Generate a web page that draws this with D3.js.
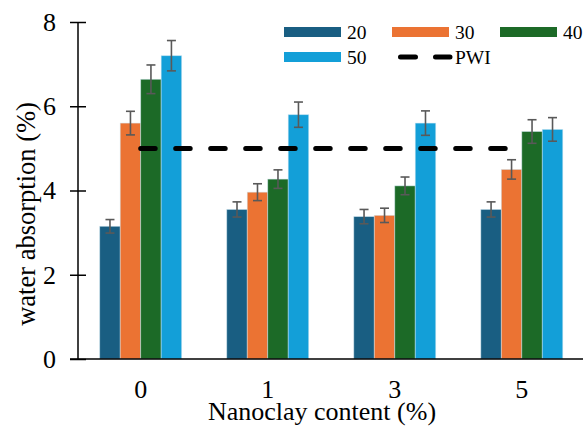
<!DOCTYPE html>
<html>
<head>
<meta charset="utf-8">
<script src="https://cdn.jsdelivr.net/npm/d3@7.9.0/dist/d3.min.js"></script>
<style>
  body { margin: 0; background: #fff; }
  svg { display: block; }
  svg text { font-family: 'Liberation Serif', 'Tinos', 'Times New Roman', 'DejaVu Serif', serif !important; }
</style>
</head>
<body>
<svg id="chart" width="583" height="427"></svg>
<script>
const CATEGORIES = ["0", "1", "3", "5"];
const SERIES = ["20", "30", "40", "50"];
const COLORS = ["#195e82", "#eb7333", "#1c6a27", "#139fd8"];

// water absorption (%) per series, one value per nanoclay content
const V20 = [3.15, 3.55, 3.38, 3.55];
const V30 = [5.60, 3.96, 3.41, 4.50];
const V40 = [6.64, 4.27, 4.11, 5.40];
const V50 = [7.20, 5.80, 5.60, 5.45];

const E20 = [0.16, 0.18, 0.17, 0.18];
const E30 = [0.28, 0.20, 0.17, 0.23];
const E40 = [0.34, 0.22, 0.21, 0.28];
const E50 = [0.36, 0.30, 0.29, 0.28];

const PWI = [5, 5, 5, 5];
const Y_TICKS = [0, 2, 4, 6, 8];

const values = [V20, V30, V40, V50];
const errors = [E20, E30, E40, E50];

const rows = [];
SERIES.forEach((s, si) => {
  CATEGORIES.forEach((c, ci) => {
    rows.push({series: s, cat: c, value: values[si][ci], err: errors[si][ci]});
  });
});

const svg = d3.select("#chart");

const x = d3.scaleBand()
  .domain(CATEGORIES)
  .range([77.5, 585])
  .paddingInner(0.355)
  .paddingOuter(0.175);

const xs = d3.scaleBand()
  .domain(SERIES)
  .range([0, x.bandwidth()]);

const y = d3.scaleLinear()
  .domain([0, 8])
  .range([359, 22]);

const color = d3.scaleOrdinal().domain(SERIES).range(COLORS);

// y axis
const yAxis = svg.append("g")
  .attr("transform", "translate(78,0)")
  .call(d3.axisLeft(y).tickValues(Y_TICKS).tickSize(8).tickPadding(14));
yAxis.select(".domain").remove();
yAxis.selectAll(".tick line")
  .attr("x1", 8).attr("x2", -8)
  .attr("stroke", "#000").attr("stroke-width", 1.5);
yAxis.selectAll(".tick text")
  .attr("x", -22)
  .attr("font-size", 26)
  .attr("fill", "#000");
yAxis.append("line")
  .attr("y1", y(8)).attr("y2", y(0))
  .attr("stroke", "#000").attr("stroke-width", 1.5);

// bars
const bars = svg.append("g");
bars.selectAll("rect")
  .data(rows)
  .join("rect")
  .attr("x", d => x(d.cat) + xs(d.series))
  .attr("y", d => y(d.value))
  .attr("width", xs.bandwidth())
  .attr("height", d => y(0) - y(d.value))
  .attr("fill", d => color(d.series))
  .attr("stroke", "#cfe6f2")
  .attr("stroke-opacity", 0.6)
  .attr("stroke-width", 0.8);

// error bars
const eb = svg.append("g")
  .attr("stroke", "#595959")
  .attr("stroke-width", 1.6);
const ebG = eb.selectAll("g")
  .data(rows)
  .join("g")
  .attr("transform", d => `translate(${x(d.cat) + xs(d.series) + xs.bandwidth() / 2},0)`);
ebG.append("line")
  .attr("y1", d => y(d.value + d.err))
  .attr("y2", d => y(d.value - d.err));
ebG.append("line")
  .attr("x1", -4.5).attr("x2", 4.5)
  .attr("y1", d => y(d.value + d.err))
  .attr("y2", d => y(d.value + d.err));
ebG.append("line")
  .attr("x1", -4.5).attr("x2", 4.5)
  .attr("y1", d => y(d.value - d.err))
  .attr("y2", d => y(d.value - d.err));

// x axis
const xAxis = svg.append("g")
  .attr("transform", `translate(0,${y(0)})`)
  .call(d3.axisBottom(x).tickSize(0));
xAxis.select(".domain").remove();
xAxis.selectAll(".tick text")
  .attr("y", 39).attr("dy", 0)
  .attr("font-size", 26)
  .attr("fill", "#000");
xAxis.append("line")
  .attr("x1", 70).attr("x2", 583)
  .attr("stroke", "#000").attr("stroke-width", 1.5);

// PWI dashed line
const line = d3.line()
  .x((d, i) => x(CATEGORIES[i]) + x.bandwidth() / 2)
  .y(d => y(d));
svg.append("path")
  .datum(PWI)
  .attr("d", line)
  .attr("fill", "none")
  .attr("stroke", "#000")
  .attr("stroke-width", 5)
  .attr("stroke-linecap", "round")
  .attr("stroke-dasharray", "14.5 20.5");

// axis titles
svg.append("text")
  .attr("x", 322).attr("y", 420)
  .attr("text-anchor", "middle")
  .attr("font-size", 26)
  .attr("fill", "#000")
  .text("Nanoclay content (%)");

svg.append("text")
  .attr("transform", "translate(35,214) rotate(-90)")
  .attr("text-anchor", "middle")
  .attr("font-size", 26.5)
  .attr("fill", "#000")
  .text("water absorption (%)");

// legend
const legendItems = SERIES.map(s => ({label: s, type: "bar"}))
  .concat([{label: "PWI", type: "line"}]);
const legend = svg.append("g").attr("transform", "translate(284,32)");
const li = legend.selectAll("g")
  .data(legendItems)
  .join("g")
  .attr("transform", (d, i) => `translate(${(i % 3) * 108},${Math.floor(i / 3) * 25})`);
li.filter(d => d.type === "bar").append("rect")
  .attr("x", 0).attr("y", -5)
  .attr("width", 57).attr("height", 10)
  .attr("fill", d => color(d.label));
li.filter(d => d.type === "line").append("line")
  .attr("x1", 8.5).attr("x2", 58)
  .attr("stroke", "#000")
  .attr("stroke-width", 5)
  .attr("stroke-linecap", "round")
  .attr("stroke-dasharray", "15 20");
li.append("text")
  .attr("x", 63).attr("y", 6.5)
  .attr("font-size", 19.5)
  .attr("fill", "#000")
  .text(d => d.label);
</script>
</body>
</html>
